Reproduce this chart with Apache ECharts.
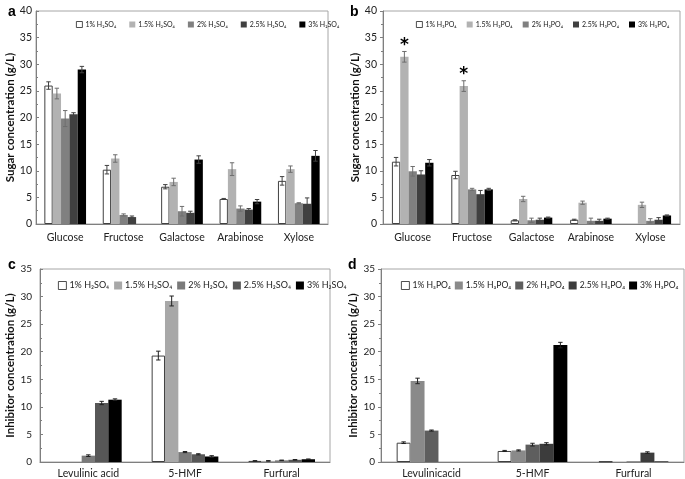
<!DOCTYPE html>
<html><head><meta charset="utf-8">
<script src="https://cdn.jsdelivr.net/npm/echarts@6/dist/echarts.min.js"></script>
<style>html,body{margin:0;padding:0;background:#fff}#c{width:685px;height:479px}</style>
</head><body><div id="c"></div>
<script>
// ---- categories ----
var sugarCats = ['Glucose','Fructose','Galactose','Arabinose','Xylose'];
var inhibCatsC = ['Levulinic acid','5-HMF','Furfural'];
var inhibCatsD = ['Levulinicacid','5-HMF','Furfural'];
var h2so4Names = ['1% H\u2082SO\u2084','1.5% H\u2082SO\u2084','2% H\u2082SO\u2084','2.5% H\u2082SO\u2084','3% H\u2082SO\u2084'];
var h3po4Names = ['1% H\u2083PO\u2084','1.5% H\u2083PO\u2084','2% H\u2083PO\u2084','2.5% H\u2083PO\u2084','3% H\u2083PO\u2084'];
var sugarTicks = [0,5,10,15,20,25,30,35,40];
var inhibTicks = [0,5,10,15,20,25,30,35];

// ---- panel a (H2SO4 sugars) ----
var a1 = [26.0, 10.2, 7.0, 4.7, 8.1],   a1e = [0.7, 0.8, 0.4, 0.1, 0.8];
var a15 = [24.5, 12.3, 7.9, 10.3, 10.3], a15e = [1.0, 0.7, 0.7, 1.2, 0.6];
var a2 = [19.8, 1.7, 2.4, 2.9, 3.9],    a2e = [1.5, 0.2, 0.9, 0.5, 0.1];
var a25 = [20.6, 1.3, 2.1, 2.7, 3.8],   a25e = [0.3, 0.2, 0.3, 0.2, 1.1];
var a3 = [29.0, null, 12.1, 4.2, 12.8], a3e = [0.6, 0, 0.7, 0.4, 1.0];

// ---- panel b (H3PO4 sugars) ----
var b1 = [11.7, 9.2, 0.7, 0.8, null],   b1e = [0.8, 0.7, 0.1, 0.1, 0];
var b15 = [31.4, 25.9, 4.7, 4.0, 3.6],  b15e = [1.0, 1.0, 0.5, 0.3, 0.5];
var b2 = [9.9, 6.5, 0.7, 0.6, 0.6],     b2e = [0.9, 0.2, 0.4, 0.5, 0.4];
var b25 = [9.3, 5.6, 0.8, 0.6, 0.8],    b25e = [0.7, 0.7, 0.3, 0.3, 0.4];
var b3 = [11.5, 6.5, 1.2, 1.0, 1.6],    b3e = [0.6, 0.2, 0.1, 0.1, 0.1];
var b15Star = ['*', '*', '', '', ''];

// ---- panel c (H2SO4 inhibitors) ----
var c1 = [null, 19.3, 0.2],  c1e = [0, 0.8, 0.05];
var c15 = [null, 29.2, 0.2], c15e = [0, 0.9, 0.05];
var c2 = [1.15, 1.8, 0.3],   c2e = [0.15, 0.1, 0.05];
var c25 = [10.7, 1.4, 0.4],  c25e = [0.3, 0.1, 0.05];
var c3 = [11.3, 1.0, 0.5],   c3e = [0.15, 0.15, 0.05];

// ---- panel d (H3PO4 inhibitors) ----
var d1 = [3.5, 2.0, 0.1],    d1e = [0.15, 0.1, 0];
var d15 = [14.7, 2.1, null], d15e = [0.5, 0.1, 0];
var d2 = [5.7, 3.15, 0.1],   d2e = [0.1, 0.25, 0];
var d25 = [null, 3.3, 1.7],  d25e = [0, 0.2, 0.15];
var d3 = [null, 21.2, 0.1],  d3e = [0, 0.5, 0];

var FONT = 'Lato';
var colAB = ['#ffffff','#b2b2b2','#808080','#404040','#000000'];
var colC  = ['#ffffff','#a8a8a8','#7a7a7a','#575757','#000000'];
var colD  = ['#ffffff','#8a8a8a','#5e5e5e','#3c3c3c','#000000'];
var errColAB = ['#404040','#6e6e6e','#6e6e6e','#404040','#404040'];
var errColCD = ['#202020','#202020','#202020','#202020','#202020'];

var grids = [
  {left:36, top:11, width:292, height:213},
  {left:383, top:11, width:297, height:213},
  {left:40, top:269, width:290, height:193},
  {left:381, top:269, width:303, height:193}
];
var gaps = [0.286, 0.30, 0.31, 0.31];

var series = [];
function addPanel(gi, names, vals, errs, cols, errCols, stars) {
  var gapPct = (gaps[gi]*100).toFixed(1) + '%';
  for (var s = 0; s < 5; s++) {
    var data = vals[s].map(function(v, i){
      if (stars && s === 1 && stars[i]) {
        return {value: v, label: {show: true, formatter: stars[i], position: 'top', distance: 3,
          fontSize: 17, fontWeight: 'bold', color: '#000', fontFamily: 'DejaVu Sans'}};
      }
      return v;
    });
    series.push({
      type: 'bar', name: names[s], xAxisIndex: gi, yAxisIndex: gi,
      data: data, barGap: '0%', barCategoryGap: gapPct,
      itemStyle: s === 0 ? {color: '#fff', borderColor: '#404040', borderWidth: 1} : {color: cols[s]},
      emphasis: {disabled: true}, silent: true, animation: false
    });
  }
  var edata = [];
  for (var s2 = 0; s2 < 5; s2++) {
    vals[s2].forEach(function(v, i){
      if (v !== null && errs[s2][i] > 0) edata.push([i, v, errs[s2][i], s2]);
    });
  }
  var g = gaps[gi];
  series.push({
    type: 'custom', xAxisIndex: gi, yAxisIndex: gi, silent: true, animation: false, z: 5,
    data: edata, encode: {x: 0, y: 1},
    renderItem: function(params, api){
      var ci = api.value(0), v = api.value(1), e = api.value(2), si = api.value(3);
      var catW = api.size([1, 0])[0];
      var bw = catW * (1 - g) / 5;
      var c = api.coord([ci, v]);
      var x = c[0] + (si - 2) * bw;
      var yt = api.coord([ci, v + e])[1];
      var yb = api.coord([ci, Math.max(v - e, 0)])[1];
      var cw = 2.2;
      var st = {stroke: errCols[si], lineWidth: 1};
      return {type: 'group', children: [
        {type: 'line', shape: {x1: x, y1: yt, x2: x, y2: yb}, style: st},
        {type: 'line', shape: {x1: x - cw, y1: yt, x2: x + cw, y2: yt}, style: st},
        {type: 'line', shape: {x1: x - cw, y1: yb, x2: x + cw, y2: yb}, style: st}
      ]};
    }
  });
}
addPanel(0, h2so4Names, [a1,a15,a2,a25,a3], [a1e,a15e,a2e,a25e,a3e], colAB, errColAB);
addPanel(1, h3po4Names, [b1,b15,b2,b25,b3], [b1e,b15e,b2e,b25e,b3e], colAB, errColAB, b15Star);
addPanel(2, h2so4Names, [c1,c15,c2,c25,c3], [c1e,c15e,c2e,c25e,c3e], colC, errColCD);
addPanel(3, h3po4Names, [d1,d15,d2,d25,d3], [d1e,d15e,d2e,d25e,d3e], colD, errColCD);

function xAx(gi, cats, fs, margin) {
  return {type: 'category', gridIndex: gi, data: cats,
    axisLine: {lineStyle: {color: '#7f7f7f', width: 1}}, axisTick: {show: false},
    axisLabel: {color: '#222', fontFamily: FONT, fontSize: fs, margin: margin, interval: 0}};
}
function yAx(gi, ticks, name, nameGap, fs, margin, inside) {
  return {type: 'value', gridIndex: gi, min: ticks[0], max: ticks[ticks.length-1], interval: ticks[1]-ticks[0],
    name: name, nameLocation: 'middle', nameGap: nameGap,
    nameTextStyle: {fontFamily: FONT, fontWeight: 'bold', fontSize: 11.5, color: '#111'},
    axisLine: {show: true, lineStyle: {color: '#7f7f7f'}},
    axisTick: {show: true, inside: inside, length: 3, lineStyle: {color: '#7f7f7f'}},
    minorTick: {show: true, splitNumber: 2, length: 2, lineStyle: {color: '#7f7f7f'}},
    splitLine: {show: false},
    axisLabel: {color: '#222', fontFamily: FONT, fontSize: fs, margin: margin}};
}

function legendFor(names, cols, left, top, fs, gap, iw) {
  return {left: left, top: top, itemWidth: iw, itemHeight: iw, itemGap: gap, icon: 'rect',
    selectedMode: false, padding: 0,
    textStyle: {fontFamily: FONT, fontSize: fs, color: '#222', padding: [0,0,0,-2]},
    data: names.map(function(n, i){
      return {name: n, itemStyle: i === 0 ? {color: '#fff', borderColor: '#222', borderWidth: 0.8} : {color: cols[i], borderWidth: 0}};
    })};
}

var option = {
  backgroundColor: '#fff',
  animation: false,
  title: [
    {text: 'a', left: 3, top: 0, textStyle: {fontFamily: 'Liberation Sans', fontWeight: 'bold', fontSize: 14, color: '#000'}},
    {text: 'b', left: 345, top: 0, textStyle: {fontFamily: 'Liberation Sans', fontWeight: 'bold', fontSize: 14, color: '#000'}},
    {text: 'c', left: 3, top: 253, textStyle: {fontFamily: 'Liberation Sans', fontWeight: 'bold', fontSize: 14, color: '#000'}},
    {text: 'd', left: 343, top: 253, textStyle: {fontFamily: 'Liberation Sans', fontWeight: 'bold', fontSize: 14, color: '#000'}}
  ],
  grid: grids.map(function(g){ return Object.assign({show: true, borderColor: '#a6a6a6', borderWidth: 1, backgroundColor: 'transparent'}, g); }),
  legend: [
    legendFor(h2so4Names, colAB, 76, 21, 7, 13, 6),
    legendFor(h3po4Names, colAB, 416, 21, 7, 10, 6),
    legendFor(h2so4Names, colC, 58, 281, 9, 5, 8),
    legendFor(h3po4Names, colD, 401, 281, 8.6, 4, 8)
  ],
  xAxis: [xAx(0, sugarCats, 10.5, 8), xAx(1, sugarCats, 10.5, 8), xAx(2, inhibCatsC, 10.5, 6), xAx(3, inhibCatsD, 10.5, 6)],
  yAxis: [
    yAx(0, sugarTicks, 'Sugar concentration (g/L)', 19, 10.5, 4, true),
    yAx(1, sugarTicks, 'Sugar concentration (g/L)', 19, 10.5, 6, false),
    yAx(2, inhibTicks, 'Inhibitor concentration (g/L)', 22, 10, 8, true),
    yAx(3, inhibTicks, 'Inhibitor concentration (g/L)', 20, 10, 6, false)
  ],
  series: series
};
var chart = echarts.init(document.getElementById('c'), null, {renderer: 'canvas'});
chart.setOption(option);
</script></body></html>
